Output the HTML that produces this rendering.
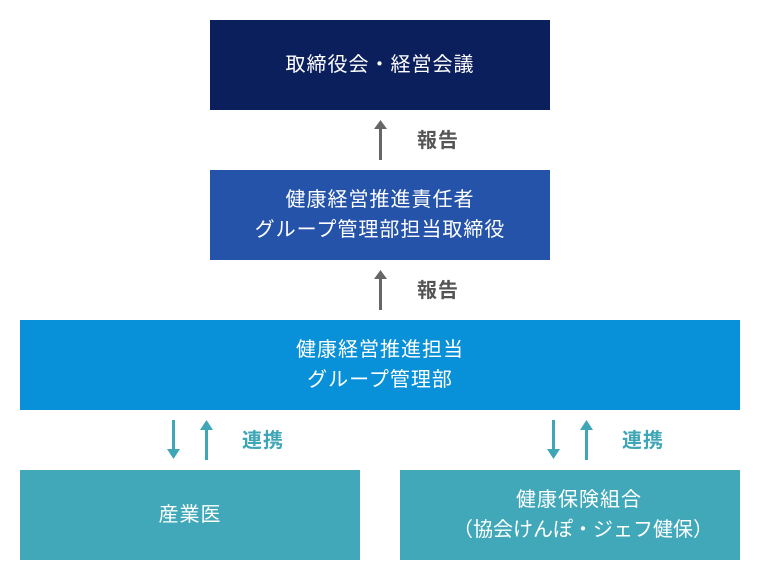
<!DOCTYPE html>
<html>
<head>
<meta charset="utf-8">
<style>
html,body{margin:0;padding:0;background:#fff;}
body{width:760px;height:580px;position:relative;overflow:hidden;font-family:"Liberation Sans","Noto Sans CJK JP",sans-serif;}
.box{position:absolute;color:#fff;font-size:20px;line-height:30px;text-align:center;display:flex;flex-direction:column;align-items:center;justify-content:center;letter-spacing:1px;}
.lbl{position:absolute;font-size:20px;font-weight:bold;line-height:24px;letter-spacing:1px;}
svg{position:absolute;left:0;top:0;}
</style>
</head>
<body>
<div class="box" style="left:210px;top:20px;width:340px;height:90px;background:#0c1f5d;">取締役会・経営会議</div>
<div class="box" style="left:210px;top:170px;width:340px;height:90px;background:#2453a9;"><div>健康経営推進責任者</div><div>グループ管理部担当取締役</div></div>
<div class="box" style="left:20px;top:320px;width:720px;height:90px;background:#0890d8;"><div>健康経営推進担当</div><div>グループ管理部</div></div>
<div class="box" style="left:20px;top:470px;width:340px;height:90px;background:#40a8b9;">産業医</div>
<div class="box" style="left:400px;top:470px;width:340px;height:90px;background:#40a8b9;"><div style="padding-left:18px;">健康保険組合</div><div style="padding-left:26px;letter-spacing:0;">（協会けんぽ・ジェフ健保）</div></div>

<svg width="760" height="580" viewBox="0 0 760 580">
  <rect x="379" y="128" width="3" height="32" fill="#666"/>
  <polygon points="380.5,120 374,129 387,129" fill="#666"/>
  <rect x="379" y="278" width="3" height="32" fill="#666"/>
  <polygon points="380.5,270 374,279 387,279" fill="#666"/>
  <rect x="172" y="420" width="3" height="30" fill="#3ea6b6"/>
  <polygon points="167,449 180,449 173.5,459" fill="#3ea6b6"/>
  <rect x="205" y="429" width="3" height="31" fill="#3ea6b6"/>
  <polygon points="206.5,420 200,430 213,430" fill="#3ea6b6"/>
  <rect x="552" y="420" width="3" height="30" fill="#3ea6b6"/>
  <polygon points="547,449 560,449 553.5,459" fill="#3ea6b6"/>
  <rect x="585" y="429" width="3" height="31" fill="#3ea6b6"/>
  <polygon points="586.5,420 580,430 593,430" fill="#3ea6b6"/>
</svg>

<div class="lbl" style="left:417px;top:129px;color:#555;">報告</div>
<div class="lbl" style="left:417px;top:279px;color:#555;">報告</div>
<div class="lbl" style="left:242px;top:429px;color:#3ea6b6;">連携</div>
<div class="lbl" style="left:622px;top:429px;color:#3ea6b6;">連携</div>
</body>
</html>
